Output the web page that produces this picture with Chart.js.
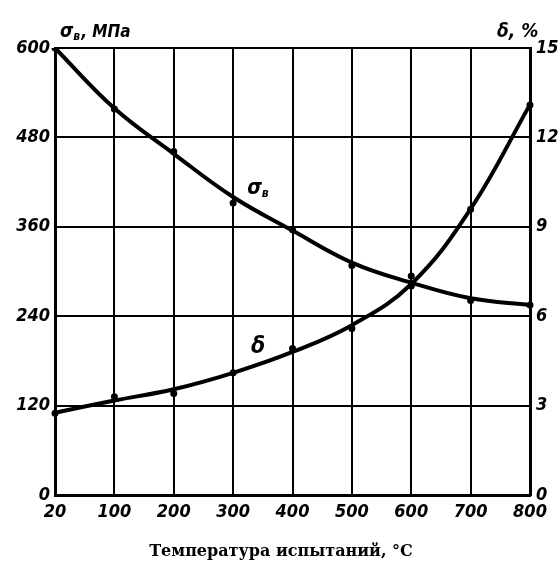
<!DOCTYPE html>
<html>
<head>
<meta charset="utf-8">
<script src="https://cdn.jsdelivr.net/npm/chart.js@4/dist/chart.umd.min.js"></script>
<style>
  html, body { margin: 0; padding: 0; background: #fff; }
  #wrap { width: 558px; height: 575px; }
</style>
</head>
<body>
<div id="wrap"><canvas id="c" width="558" height="575"></canvas></div>
<script>
// Test temperatures, °C (equally spaced categories)
const temperatures = ['20', '100', '200', '300', '400', '500', '600', '700', '800'];

// Ultimate strength σв, MPa: measured points and fitted curve
const strengthMeasured = [600, 518, 461, 392, 356, 308, 294, 261, 255];
const strengthCurve    = [600, 519, 458, 400, 355, 312, 285, 264, 255];

// Elongation δ, %: measured points and fitted curve
const elongationMeasured = [2.74, 3.30, 3.41, 4.10, 4.92, 5.59, 7.01, 9.59, 13.09];
const elongationCurve    = [2.76, 3.17, 3.55, 4.10, 4.80, 5.70, 7.08, 9.60, 13.10];

// Axis ticks
const strengthTicks   = [0, 120, 240, 360, 480, 600];
const elongationTicks = [0, 3, 6, 9, 12, 15];

const handFont = "'DejaVu Sans Condensed', 'Liberation Sans Narrow', sans-serif";
const tickFont = { family: handFont, size: 18, style: 'italic', weight: 'bold' };
const axisTitle = 'Температура испытаний, °C';

// Axis captions and curve labels
const labelsPlugin = {
  id: 'captions',
  afterDraw(chart) {
    const ctx = chart.ctx;
    const x = chart.scales.x, y = chart.scales.y, y2 = chart.scales.y2;
    ctx.save();
    ctx.fillStyle = '#000';
    ctx.textBaseline = 'alphabetic';

    function sigma(px, py, big, small, tail) {
      ctx.textAlign = 'left';
      ctx.font = `italic bold ${big}px ${handFont}`;
      ctx.fillText('σ', px, py);
      let w = ctx.measureText('σ').width;
      ctx.font = `italic bold ${small}px ${handFont}`;
      ctx.fillText('в', px + w, py + 3);
      w += ctx.measureText('в').width;
      if (tail) {
        ctx.font = `italic bold ${big - 2}px ${handFont}`;
        ctx.fillText(tail, px + w + 1, py);
      }
    }

    // left axis caption
    sigma(60, 37, 19, 12, ', МПа');

    // right axis caption
    ctx.textAlign = 'left';
    ctx.font = `italic bold 19px ${handFont}`;
    ctx.fillText('δ, %', 497, 37);

    // curve labels
    sigma(x.getPixelForValue(3) + 14, y.getPixelForValue(404), 21, 12, '');
    ctx.font = `italic bold 23px ${handFont}`;
    ctx.textAlign = 'center';
    ctx.fillText('δ', x.getPixelForValue(3) + 25, y2.getPixelForValue(4.75));

    // horizontal axis caption
    ctx.font = "bold 16px 'DejaVu Serif', serif";
    ctx.textAlign = 'center';
    ctx.textBaseline = 'middle';
    ctx.fillText(axisTitle, 281, 552);
    ctx.restore();
  }
};

new Chart(document.getElementById('c'), {
  type: 'line',
  data: {
    labels: temperatures,
    datasets: [
      {
        data: strengthCurve, yAxisID: 'y',
        borderColor: '#000', borderWidth: 4, pointRadius: 0,
        tension: 0.4, fill: false
      },
      {
        data: strengthMeasured, yAxisID: 'y', showLine: false,
        pointRadius: 3.5, pointBackgroundColor: '#000', pointBorderColor: '#000', pointBorderWidth: 0
      },
      {
        data: elongationCurve, yAxisID: 'y2',
        borderColor: '#000', borderWidth: 4, pointRadius: 0,
        tension: 0.4, fill: false
      },
      {
        data: elongationMeasured, yAxisID: 'y2', showLine: false,
        pointRadius: 3.5, pointBackgroundColor: '#000', pointBorderColor: '#000', pointBorderWidth: 0
      }
    ]
  },
  options: {
    responsive: false,
    animation: false,
    devicePixelRatio: 1,
    layout: { padding: { top: 48, left: 0, right: 0, bottom: 0 } },
    plugins: { legend: { display: false }, tooltip: { enabled: false } },
    scales: {
      x: {
        type: 'category',
        offset: false,
        grid: { color: '#000', lineWidth: 2, drawTicks: false },
        border: { color: '#000', width: 3 },
        ticks: { color: '#000', font: tickFont, padding: 7, maxRotation: 0, autoSkip: false },
        afterFit(s) { s.height = 80; }
      },
      y: {
        position: 'left',
        min: 0, max: 600,
        afterBuildTicks(s) { s.ticks = strengthTicks.map(v => ({ value: v })); },
        grid: { color: '#000', lineWidth: 2, drawTicks: false },
        border: { color: '#000', width: 3 },
        ticks: { color: '#000', font: tickFont, padding: 5 },
        afterFit(s) { s.width = 55; }
      },
      y2: {
        position: 'right',
        min: 0, max: 15,
        afterBuildTicks(s) { s.ticks = elongationTicks.map(v => ({ value: v })); },
        grid: { display: false, drawTicks: false },
        border: { color: '#000', width: 3 },
        ticks: { color: '#000', font: tickFont, padding: 6 },
        afterFit(s) { s.width = 28; }
      }
    }
  },
  plugins: [labelsPlugin]
});
</script>
</body>
</html>
